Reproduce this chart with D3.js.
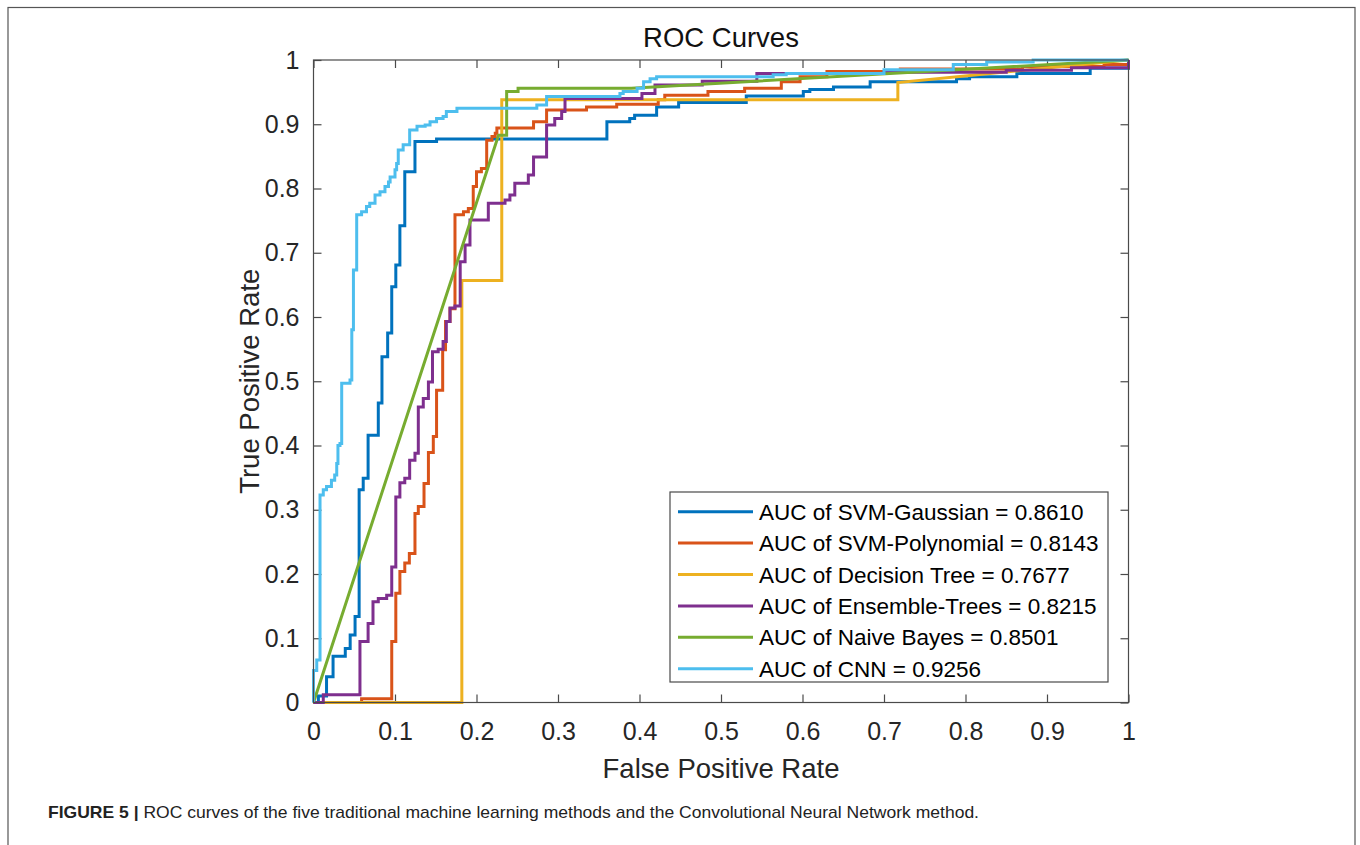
<!DOCTYPE html>
<html><head><meta charset="utf-8">
<script src="https://cdn.jsdelivr.net/npm/d3@7"></script>
<style>body{margin:0;background:#fff;}</style>
</head><body>
<svg id="chart" width="1360" height="845"></svg>
<script>
// ---------- data ----------
const chartTitle = "ROC Curves";
const xLabel = "False Positive Rate";
const yLabel = "True Positive Rate";
const captionBold = "FIGURE 5 |";
const captionText = " ROC curves of the five traditional machine learning methods and the Convolutional Neural Network method.";

const seriesNames = ["SVM-Gaussian", "SVM-Polynomial", "Decision Tree", "Ensemble-Trees", "Naive Bayes", "CNN"];
const aucValues = ["0.8610", "0.8143", "0.7677", "0.8215", "0.8501", "0.9256"];
const seriesColors = ["#0072BD", "#D95319", "#EDB120", "#7E2F8E", "#77AC30", "#4DBEEE"];

const tickValues = [0, 0.1, 0.2, 0.3, 0.4, 0.5, 0.6, 0.7, 0.8, 0.9, 1];
const tickLabels = ["0", "0.1", "0.2", "0.3", "0.4", "0.5", "0.6", "0.7", "0.8", "0.9", "1"];

// step curves: each point = (FPR where the step happens, new TPR level)
const svmGaussianFpr = [0, 0.006, 0.016, 0.024, 0.039, 0.045, 0.051, 0.056, 0.061, 0.067, 0.0795, 0.084, 0.091, 0.096, 0.101, 0.106, 0.112, 0.1245, 0.151, 0.36, 0.388, 0.394, 0.421, 0.448, 0.531, 0.601, 0.609, 0.638, 0.683, 0.789, 0.805, 0.863, 0.953, 1];
const svmGaussianTpr = [0, 0.010, 0.040, 0.072, 0.084, 0.105, 0.134, 0.331, 0.349, 0.416, 0.466, 0.538, 0.575, 0.647, 0.681, 0.742, 0.826, 0.873, 0.877, 0.904, 0.909, 0.914, 0.927, 0.934, 0.944, 0.951, 0.954, 0.958, 0.966, 0.971, 0.974, 0.979, 0.987, 1];

const svmPolyFpr = [0, 0.059, 0.096, 0.101, 0.106, 0.112, 0.1176, 0.1245, 0.1286, 0.1356, 0.141, 0.147, 0.151, 0.1585, 0.162, 0.1675, 0.1736, 0.184, 0.19, 0.196, 0.200, 0.206, 0.2125, 0.219, 0.223, 0.225, 0.27, 0.286, 0.335, 0.372, 0.423, 0.431, 0.484, 0.529, 0.574, 0.597, 0.63, 0.72, 0.87, 0.97, 1];
const svmPolyTpr = [0, 0.006, 0.095, 0.17, 0.204, 0.217, 0.232, 0.294, 0.305, 0.341, 0.389, 0.414, 0.486, 0.549, 0.593, 0.613, 0.759, 0.764, 0.769, 0.803, 0.826, 0.831, 0.875, 0.881, 0.886, 0.894, 0.904, 0.922, 0.927, 0.931, 0.938, 0.945, 0.951, 0.956, 0.966, 0.974, 0.982, 0.986, 0.99, 0.993, 1];

// polyline curves: explicit vertices
const decisionTreeFpr = [0, 0.182, 0.182, 0.231, 0.231, 0.717, 0.717, 1];
const decisionTreeTpr = [0, 0, 0.657, 0.657, 0.938, 0.938, 0.965, 1];

const ensembleFpr = [0, 0.012, 0.057, 0.067, 0.073, 0.0795, 0.0898, 0.096, 0.101, 0.106, 0.112, 0.118, 0.1245, 0.1286, 0.1347, 0.141, 0.146, 0.153, 0.159, 0.163, 0.1675, 0.1736, 0.18, 0.186, 0.192, 0.2145, 0.235, 0.241, 0.247, 0.2636, 0.27, 0.286, 0.296, 0.3045, 0.3086, 0.403, 0.419, 0.477, 0.544, 0.70, 0.85, 0.93, 1];
const ensembleTpr = [0, 0.012, 0.095, 0.123, 0.157, 0.162, 0.167, 0.211, 0.320, 0.342, 0.349, 0.377, 0.388, 0.460, 0.473, 0.499, 0.546, 0.550, 0.562, 0.593, 0.614, 0.617, 0.686, 0.712, 0.751, 0.777, 0.782, 0.790, 0.808, 0.821, 0.849, 0.899, 0.909, 0.920, 0.940, 0.948, 0.961, 0.967, 0.979, 0.981, 0.984, 0.988, 1];

const naiveBayesFpr = [0, 0.227, 0.237, 0.237, 0.251, 0.251, 0.39, 1];
const naiveBayesTpr = [0, 0.883, 0.883, 0.951, 0.951, 0.956, 0.956, 1];

const cnnFpr = [0, 0, 0.004, 0.008, 0.012, 0.016, 0.022, 0.026, 0.0285, 0.030, 0.0325, 0.0346, 0.0448, 0.047, 0.049, 0.053, 0.059, 0.065, 0.069, 0.0755, 0.0816, 0.0877, 0.092, 0.094, 0.100, 0.102, 0.104, 0.110, 0.118, 0.127, 0.137, 0.143, 0.151, 0.159, 0.163, 0.176, 0.274, 0.286, 0.376, 0.380, 0.397, 0.405, 0.413, 0.421, 0.564, 0.58, 0.70, 0.785, 0.826, 0.883, 1];
const cnnTpr = [0, 0.05, 0.066, 0.323, 0.331, 0.336, 0.346, 0.354, 0.372, 0.40, 0.403, 0.497, 0.502, 0.58, 0.673, 0.759, 0.764, 0.772, 0.777, 0.79, 0.795, 0.803, 0.81, 0.818, 0.829, 0.839, 0.86, 0.868, 0.891, 0.897, 0.899, 0.904, 0.909, 0.912, 0.92, 0.925, 0.930, 0.943, 0.948, 0.951, 0.956, 0.966, 0.971, 0.974, 0.977, 0.979, 0.985, 0.993, 0.997, 1, 1];

const seriesFpr = [svmGaussianFpr, svmPolyFpr, decisionTreeFpr, ensembleFpr, naiveBayesFpr, cnnFpr];
const seriesTpr = [svmGaussianTpr, svmPolyTpr, decisionTreeTpr, ensembleTpr, naiveBayesTpr, cnnTpr];
const seriesStep = [true, true, false, true, false, true];

// ---------- drawing ----------
const svg = d3.select("#chart");
const FONT = "'Liberation Sans', Arial, Helvetica, sans-serif";
const CAPFONT = "'Liberation Sans Narrow', 'Arial Narrow', 'Liberation Sans', Arial, sans-serif";
const axisColor = "#4a4a4a";
const textColor = "#262626";

// figure frame
svg.append("rect").attr("x", 8).attr("y", 7.5).attr("width", 1347).attr("height", 860)
  .attr("fill", "none").attr("stroke", "#555").attr("stroke-width", 1.2);

const x = d3.scaleLinear().domain([0, 1]).range([313.5, 1128.5]);
const y = d3.scaleLinear().domain([0, 1]).range([702.5, 60]);

function styleAxis(g, showLabels) {
  g.select(".domain").remove();
  g.selectAll(".tick line").attr("stroke", axisColor).attr("stroke-width", 1.2);
  g.selectAll(".tick text").attr("fill", textColor).style("font-family", FONT).style("font-size", "25px");
  if (!showLabels) g.selectAll(".tick text").remove();
}
const fmt = (d, i) => tickLabels[i];

svg.append("g").attr("transform", `translate(0,${y(0)})`)
  .call(d3.axisBottom(x).tickValues(tickValues).tickFormat(fmt).tickSizeInner(-8).tickSizeOuter(0).tickPadding(20))
  .call(g => styleAxis(g, true));
svg.append("g").attr("transform", `translate(0,${y(1)})`)
  .call(d3.axisTop(x).tickValues(tickValues).tickSizeInner(-8).tickSizeOuter(0))
  .call(g => styleAxis(g, false));
svg.append("g").attr("transform", `translate(${x(0)},0)`)
  .call(d3.axisLeft(y).tickValues(tickValues).tickFormat(fmt).tickSizeInner(-8).tickSizeOuter(0).tickPadding(14))
  .call(g => styleAxis(g, true));
svg.append("g").attr("transform", `translate(${x(1)},0)`)
  .call(d3.axisRight(y).tickValues(tickValues).tickSizeInner(-8).tickSizeOuter(0))
  .call(g => styleAxis(g, false));

// curves
seriesNames.forEach((name, i) => {
  const pts = seriesFpr[i].map((f, j) => [f, seriesTpr[i][j]]);
  const line = d3.line().x(d => x(d[0])).y(d => y(d[1]))
    .curve(seriesStep[i] ? d3.curveStepAfter : d3.curveLinear);
  svg.append("path").datum(pts).attr("d", line)
    .attr("fill", "none").attr("stroke", seriesColors[i]).attr("stroke-width", 3)
    .attr("stroke-linejoin", "miter");
});

// axes box
svg.append("rect").attr("x", x(0)).attr("y", y(1)).attr("width", x(1) - x(0)).attr("height", y(0) - y(1))
  .attr("fill", "none").attr("stroke", axisColor).attr("stroke-width", 1.2);

// title & labels
svg.append("text").attr("x", (x(0) + x(1)) / 2).attr("y", 47).attr("text-anchor", "middle")
  .style("font-family", FONT).style("font-size", "27.5px").attr("fill", "#111").text(chartTitle);
svg.append("text").attr("x", (x(0) + x(1)) / 2).attr("y", 778).attr("text-anchor", "middle")
  .style("font-family", FONT).style("font-size", "27.5px").attr("fill", textColor).text(xLabel);
svg.append("text").attr("transform", `translate(259,${(y(0) + y(1)) / 2}) rotate(-90)`).attr("text-anchor", "middle")
  .style("font-family", FONT).style("font-size", "27.5px").attr("fill", textColor).text(yLabel);

// legend
const lg = svg.append("g");
lg.append("rect").attr("x", 670).attr("y", 492).attr("width", 438).attr("height", 190)
  .attr("fill", "#fff").attr("stroke", axisColor).attr("stroke-width", 1.2);
seriesNames.forEach((name, i) => {
  const cy = 511.7 + i * 31.4;
  lg.append("line").attr("x1", 678).attr("x2", 753).attr("y1", cy).attr("y2", cy)
    .attr("stroke", seriesColors[i]).attr("stroke-width", 3);
  lg.append("text").attr("x", 759).attr("y", cy).attr("dy", "0.36em")
    .style("font-family", FONT).style("font-size", "22.5px").attr("fill", "#000")
    .text(`AUC of ${name} = ${aucValues[i]}`);
});

// caption
const cap = svg.append("text").attr("x", 48).attr("y", 818)
  .style("font-family", CAPFONT).style("font-size", "17px").attr("fill", "#222");
cap.append("tspan").style("font-weight", "bold").text(captionBold);
cap.append("tspan").text(captionText);
cap.attr("textLength", 931).attr("lengthAdjust", "spacingAndGlyphs");
</script>
</body></html>
